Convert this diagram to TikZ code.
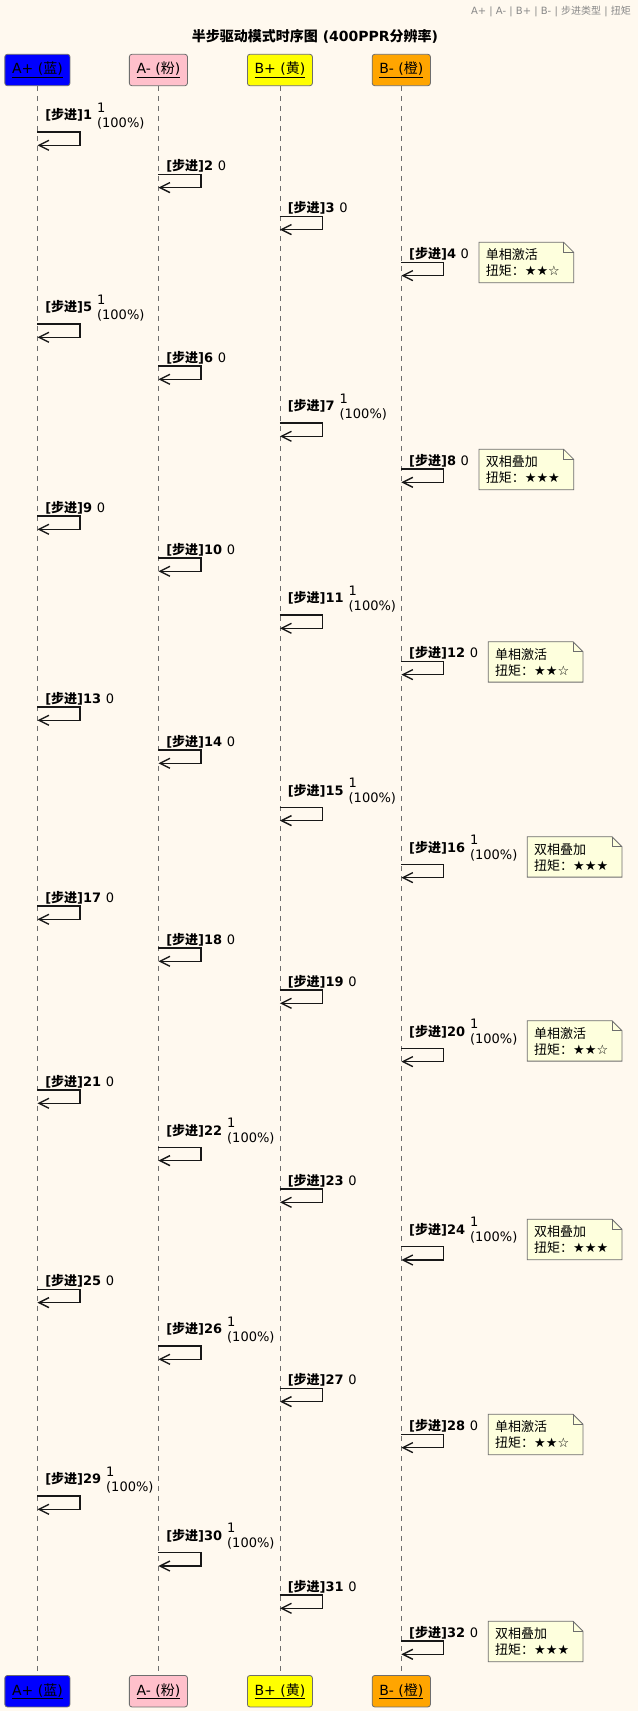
\documentclass[tikz,border=0pt]{standalone}
\usepackage{fontspec}
\setmainfont{DejaVu Sans}
\newfontfamily\cjk{Noto Sans CJK SC}
\usetikzlibrary{arrows.meta,calc}
\definecolor{PaperCream}{RGB}{255,249,239}
\definecolor{LaneBlue}{RGB}{0,0,255}
\definecolor{LanePink}{RGB}{255,192,203}
\definecolor{LaneYellow}{RGB}{255,255,0}
\definecolor{LaneOrange}{RGB}{255,165,0}
\definecolor{NoteYellow}{RGB}{254,255,221}
\definecolor{InkGray}{RGB}{24,24,24}
\definecolor{EdgeGray}{RGB}{110,110,110}
\definecolor{LegendGray}{RGB}{136,136,136}

\tikzset{
  partbox/.style={draw=EdgeGray, line width=0.8pt, rounded corners=2.5pt, minimum height=31.4pt, inner sep=0pt, font=\fontsize{14}{16}\selectfont},
  lifeline/.style={draw=EdgeGray, line width=0.8pt, dash pattern=on 5pt off 5pt},
  selfmsg/.style={draw=InkGray, line width=1.3pt, -{Straight Barb[length=10pt,width=10pt,line width=1.4pt]}},
  steplabel/.style={inner sep=0pt, anchor=base west, font=\fontsize{13}{15}\selectfont\bfseries},
  valuelabel/.style={inner sep=0pt, anchor=base west, font=\fontsize{13}{15}\selectfont},
  notebox/.style={minimum width=94.3pt, minimum height=40pt, inner sep=0pt, anchor=north west},
  noteline/.style={draw=EdgeGray, line width=0.8pt, fill=NoteYellow},
  notetext/.style={inner sep=0pt, anchor=base west, font=\fontsize{13}{16}\selectfont},
}

\begin{document}
\begin{tikzpicture}[x=1pt, y=-1pt]
        \useasboundingbox (0,0) rectangle (638,1711);
        \fill[PaperCream] (0,0) rectangle (638,1711);
        % title and legend
        \node[font=\fontsize{14}{16}\selectfont\bfseries] (title) at (315,36) {{\cjk 半步驱动模式时序图} (400PPR{\cjk 分辨率})};
        \node[font=\fontsize{10}{12}\selectfont, text=LegendGray, anchor=east, inner sep=0pt] (legend) at (631,11) {A+ | A- | B+ | B- | {\cjk 步进类型} | {\cjk 扭矩}};
        % participants and lifelines
        \foreach \id/\x/\w/\col/\nm/\zh in {Ap/37.4/65.1/LaneBlue/A+/蓝, Am/158.4/58.1/LanePink/A-/粉, Bp/279.9/65/LaneYellow/B+/黄, Bm/401.3/58.2/LaneOrange/B-/橙} {
            \node[partbox, fill=\col, minimum width=\w] (top\id) at (\x,70) {\underline{\nm\ ({\cjk\zh})}};
            \node[partbox, fill=\col, minimum width=\w] (bot\id) at (\x,1691.2) {\underline{\nm\ ({\cjk\zh})}};
            \draw[lifeline] (top\id) -- (bot\id);
        }
        % self messages
        \foreach \n/\lane/\y/\two in {1/Ap/132/1, 2/Am/174.3/0, 3/Bp/216.3/0, 4/Bm/262.3/0,
                                       5/Ap/324/1, 6/Am/366/0, 7/Bp/423/1, 8/Bm/469/0,
                                       9/Ap/516/0, 10/Am/558/0, 11/Bp/615/1, 12/Bm/661.3/0,
                                       13/Ap/707/0, 14/Am/750/0, 15/Bp/807.3/1, 16/Bm/864.3/1,
                                       17/Ap/906/0, 18/Am/948/0, 19/Bp/990/0, 20/Bm/1048.3/1,
                                       21/Ap/1090/0, 22/Am/1147.3/1, 23/Bp/1189/0, 24/Bm/1246.7/1,
                                       25/Ap/1289.3/0, 26/Am/1346/1, 27/Bp/1388.3/0, 28/Bm/1434.3/0,
                                       29/Ap/1496/1, 30/Am/1552.7/1, 31/Bp/1595/0, 32/Bm/1641/0} {
            \coordinate (s\n) at (top\lane |- 0,\y);
            \coordinate (e\n) at ($(s\n)+(0,13.3)$);
            \draw[selfmsg] (s\n) -- ++(42.5,0) |- (e\n);
            \ifnum\two=1
                \node[steplabel] (l\n) at ($(s\n)+(7.7,-12.3)$) {[{\cjk 步进}]\n};
                \node[valuelabel] (v\n) at ($(l\n.base east)+(4.5,-7.7)$) {1};
                \node[valuelabel] (w\n) at ($(l\n.base east)+(4.5,7.3)$) {(100\%)};
            \else
                \node[steplabel] (l\n) at ($(s\n)+(7.7,-3.9)$) {[{\cjk 步进}]\n};
                \node[valuelabel] (v\n) at ($(l\n.base east)+(4.2,0)$) {0};
            \fi
        }
        % notes
        \foreach \n/\x/\y/\kind/\stars in {4/479/242.3/单相激活/★★☆, 8/479/449.3/双相叠加/★★★,
                                            12/488.3/641.7/单相激活/★★☆, 16/527.3/836.7/双相叠加/★★★,
                                            20/527.3/1020.7/单相激活/★★☆, 24/527.3/1219.3/双相叠加/★★★,
                                            28/488.3/1414.3/单相激活/★★☆, 32/488.3/1621.3/双相叠加/★★★} {
            \node[notebox] (n\n) at (\x,\y) {};
            \draw[noteline] (n\n.north west) -- ([xshift=-10pt]n\n.north east) -- ([yshift=-10pt]n\n.north east) -- (n\n.south east) -- (n\n.south west) -- cycle;
            \draw[noteline, fill=none] ([xshift=-10pt]n\n.north east) -- ++(0,10) -- ++(10,0);
            \node[notetext] (t\n) at ([shift={(6.7,17.4)}]n\n.north west) {{\cjk\kind}};
            \node[notetext] (u\n) at ([shift={(6.7,33.4)}]n\n.north west) {{\cjk 扭矩：}\stars};
        }
    \end{tikzpicture}
\end{document}
